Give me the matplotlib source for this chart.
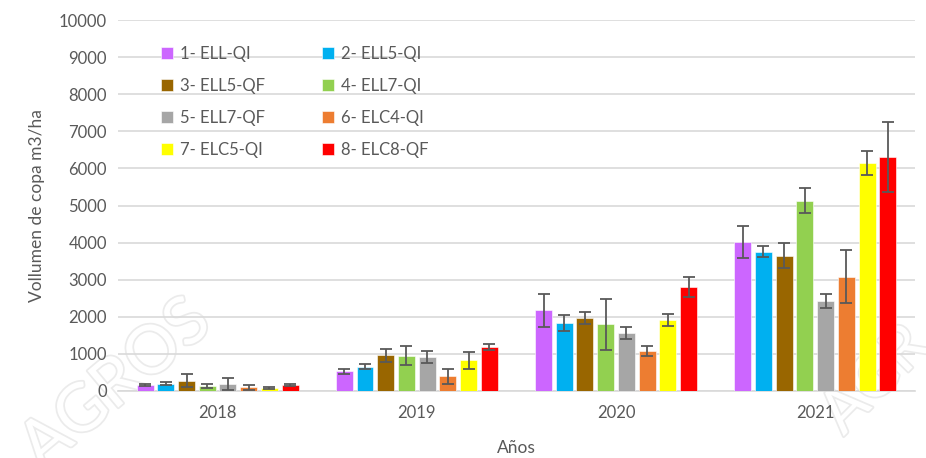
import numpy as np
import matplotlib
matplotlib.use("Agg")
import matplotlib.pyplot as plt
import matplotlib.patheffects as pe

plt.rcParams["font.family"] = ["Lato", "DejaVu Sans"]

years = ["2018", "2019", "2020", "2021"]
treatments = ["1- ELL-QI", "2- ELL5-QI", "3- ELL5-QF", "4- ELL7-QI",
              "5- ELL7-QF", "6- ELC4-QI", "7- ELC5-QI", "8- ELC8-QF"]
colors = ["#cc66ff", "#00b0f0", "#996600", "#92d050",
          "#a6a6a6", "#ed7d31", "#ffff00", "#ff0000"]

# mean values per treatment, one entry per year
means = [
    [170, 530, 2170, 4020],
    [200, 660, 1840, 3750],
    [280, 960, 1970, 3650],
    [140, 950, 1800, 5130],
    [190, 920, 1555, 2430],
    [95, 400, 1080, 3080],
    [80, 830, 1910, 6150],
    [170, 1190, 2810, 6310],
]
errors = [
    [25, 70, 450, 430],
    [30, 60, 220, 150],
    [170, 170, 165, 330],
    [55, 250, 690, 330],
    [170, 170, 165, 190],
    [65, 200, 125, 720],
    [25, 230, 165, 330],
    [25, 80, 270, 950],
]

text_col = "#595959"

fig = plt.figure(figsize=(9.26, 4.58), dpi=100)

# faint watermark behind the chart
for (wx, wy, rot, fs, s) in [(0.125, 0.16, 40, 48, "AGROS"),
                             (0.945, 0.17, 45, 44, "AGR")]:
    fig.text(wx, wy, s, fontsize=fs, rotation=rot, ha="center", va="center",
             color="white", zorder=-5,
             path_effects=[pe.withStroke(linewidth=2.5, foreground="#ebebeb")])

ax = fig.add_axes([0.1274, 0.1463, 0.8606, 0.81])
ax.patch.set_alpha(0)

x = np.arange(len(years))
slot = 0.104
width = 0.085
handles = []
for i, (name, col) in enumerate(zip(treatments, colors)):
    pos = x + (i - 3.5) * slot
    b = ax.bar(pos, means[i], width, color=col, label=name, zorder=3,
               edgecolor="white", linewidth=0.4)
    handles.append(b)
    ax.errorbar(pos, means[i], yerr=errors[i], fmt="none", ecolor="#595959",
                elinewidth=1.3, capsize=4, capthick=1.3, zorder=4)

ax.set_xlim(-0.5, 3.5)
ax.set_ylim(0, 10000)
ax.set_yticks(np.arange(0, 10001, 1000))
ax.set_xticks(x)
ax.set_xticklabels(years)
ax.yaxis.grid(True, color="#d9d9d9", linewidth=1.2, zorder=0)
for s in ["top", "right", "left"]:
    ax.spines[s].set_visible(False)
ax.spines["bottom"].set_color("#d9d9d9")
ax.spines["bottom"].set_linewidth(1.2)
ax.tick_params(axis="y", length=0, labelsize=12, colors=text_col, pad=8)
ax.tick_params(axis="x", length=0, labelsize=12, colors=text_col, pad=10)
ax.set_ylabel("Vollumen de copa m3/ha", fontsize=12.5, color=text_col, labelpad=10)
ax.set_xlabel("Años", fontsize=12.5, color=text_col, labelpad=14)

# row-wise legend order (matplotlib fills columns first)
order = [0, 2, 4, 6, 1, 3, 5, 7]
leg = ax.legend([handles[k] for k in order], [treatments[k] for k in order],
                ncol=2, loc="upper left", bbox_to_anchor=(0.035, 0.97),
                frameon=False, fontsize=12, handlelength=0.75, handleheight=0.75,
                handletextpad=0.4, labelspacing=0.95, columnspacing=3.4)
for t in leg.get_texts():
    t.set_color(text_col)

fig.savefig("out.png", dpi=100)
